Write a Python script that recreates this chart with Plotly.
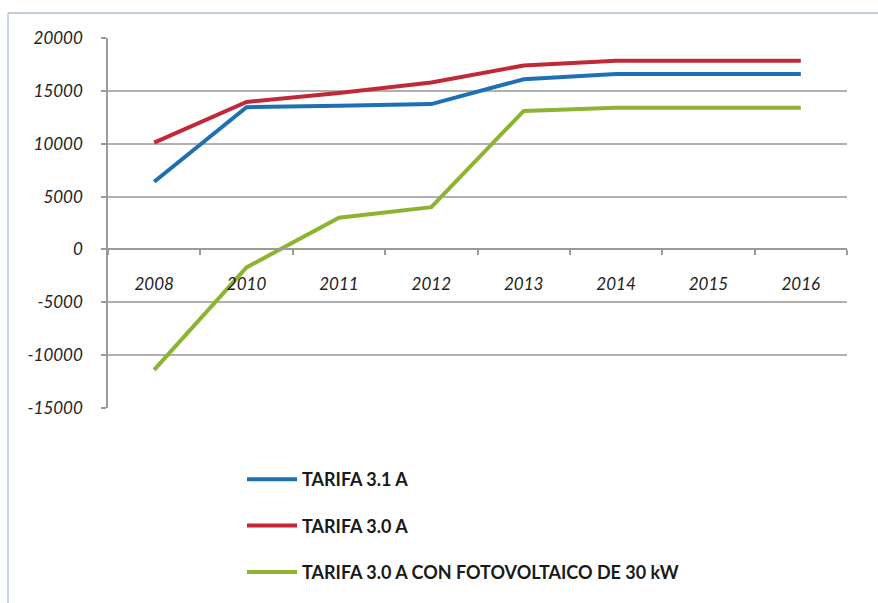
import plotly.graph_objects as go

# Categories and series (euros per year)
years = ["2008", "2010", "2011", "2012", "2013", "2014", "2015", "2016"]
tarifa_31a = [6400, 13450, 13600, 13750, 16100, 16600, 16600, 16600]
tarifa_30a = [10100, 13950, 14800, 15800, 17400, 17850, 17850, 17850]
tarifa_30a_fv = [-11400, -1700, 3000, 4000, 13100, 13400, 13400, 13400]

names = ["TARIFA 3.1 A", "TARIFA 3.0 A", "TARIFA 3.0 A CON FOTOVOLTAICO DE 30 kW"]
colors = ["#1f70b3", "#c02a38", "#8cb431"]
y_ticks = [20000, 15000, 10000, 5000, 0, -5000, -10000, -15000]

W, H = 878, 603
L, R, T, B = 108, 31, 38, 195
pw, ph = W - L - R, H - T - B

fig = go.Figure()
for i, (name, vals) in enumerate(zip(names, [tarifa_31a, tarifa_30a, tarifa_30a_fv])):
    fig.add_trace(go.Scatter(
        x=years, y=vals, mode="lines", name=name,
        legendgroup=f"g{i}",
        line=dict(color=colors[i], width=4),
    ))

tick_font = dict(family="Lato", size=17, color="#222222", style="italic")

fig.update_layout(
    width=W, height=H,
    margin=dict(l=L, r=R, t=T, b=B, autoexpand=False),
    paper_bgcolor="white", plot_bgcolor="white",
    showlegend=True,
    legend=dict(
        x=(242 - L) / pw, y=(T + ph - 461) / ph,
        xanchor="left", yanchor="top",
        font=dict(family="Lato", size=18, color="#1a1a1a", weight="bold"),
        tracegroupgap=20,
        itemwidth=50,
        bgcolor="rgba(0,0,0,0)",
    ),
    xaxis=dict(
        type="category",
        anchor="free", position=15000 / 35000,
        showgrid=False, zeroline=False,
        showline=True, linecolor="#9a9a9a", linewidth=1.5,
        ticks="outside", ticklen=5, tickcolor="#9a9a9a", tickwidth=1.5,
        tickson="boundaries",
        tickfont=tick_font,
        ticklabelstandoff=19,
        range=[-0.5, len(years) - 0.5],
    ),
    yaxis=dict(
        range=[-15000, 20000],
        tickvals=y_ticks,
        ticktext=[str(v) for v in y_ticks],
        showgrid=True, gridcolor="#b0b0b0", gridwidth=1.5,
        zeroline=False,
        showline=True, linecolor="#9a9a9a", linewidth=1.5,
        ticks="outside", ticklen=5, tickcolor="#9a9a9a", tickwidth=1.5,
        tickfont=tick_font,
        ticklabelstandoff=15,
    ),
)

# Frame lines around the chart area
def px_x(px):
    return (px - L) / pw

def px_y(py):
    return (T + ph - py) / ph

fig.add_shape(type="line", xref="paper", yref="paper",
              x0=px_x(8), x1=px_x(W), y0=px_y(13), y1=px_y(13),
              line=dict(color="#8a9fb2", width=1.2))
fig.add_shape(type="line", xref="paper", yref="paper",
              x0=px_x(8), x1=px_x(8), y0=px_y(13), y1=px_y(H),
              line=dict(color="#b9cad9", width=1.5))

fig.write_html("out.html")
